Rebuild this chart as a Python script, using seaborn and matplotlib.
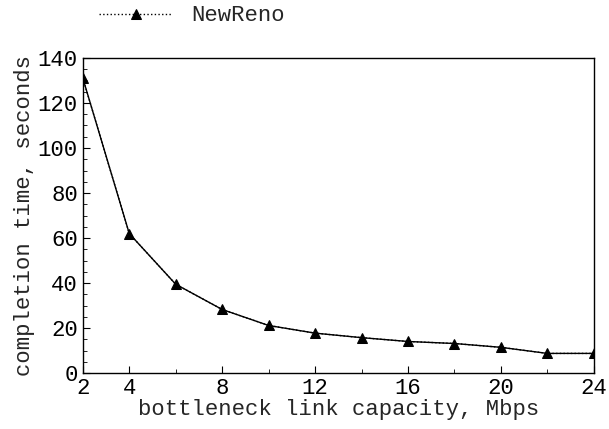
import matplotlib
matplotlib.use("Agg")
import matplotlib.pyplot as plt
import seaborn as sns
import pandas as pd
from matplotlib.ticker import MultipleLocator, FixedLocator

# data
capacity = [2, 4, 6, 8, 10, 12, 14, 16, 18, 20, 22, 24]
newreno = [131, 62, 39.5, 28.3, 21.2, 17.8, 15.8, 14.1, 13.2, 11.5, 8.8, 8.8]
xticks_major = [2, 4, 8, 12, 16, 20, 24]
xticks_minor = [6, 10, 14, 18, 22]

df = pd.DataFrame({"capacity": capacity, "time": newreno})

sns.set_style("ticks")
plt.rcParams['font.family'] = ['Liberation Mono', 'DejaVu Sans Mono']

fig = plt.figure(figsize=(6.09, 4.29), dpi=100)
ax = fig.add_axes([0.136, 0.130, 0.839, 0.735])

# solid line underneath, dotted NewReno with markers on top
sns.lineplot(data=df, x="capacity", y="time", ax=ax, color="black", lw=1.0)
sns.lineplot(data=df, x="capacity", y="time", ax=ax, color="black", lw=1.0,
             linestyle=":", marker="^", markersize=7, markeredgecolor="black",
             label="NewReno")

ax.set_xlim(2, 24)
ax.set_ylim(0, 140)
ax.xaxis.set_major_locator(FixedLocator(xticks_major))
ax.xaxis.set_minor_locator(FixedLocator(xticks_minor))
ax.yaxis.set_major_locator(MultipleLocator(20))
ax.yaxis.set_minor_locator(MultipleLocator(5))
ax.tick_params(which="both", direction="in", top=False, right=False, labelsize=16, colors="black")
ax.tick_params(which="major", length=5)
ax.tick_params(which="minor", length=3)
for s in ax.spines.values():
    s.set_color("black")
    s.set_linewidth(1.0)

ax.set_xlabel("bottleneck link capacity, Mbps", fontsize=16, labelpad=0)
ax.set_ylabel("completion time, seconds", fontsize=16, labelpad=2)

ax.legend(loc="center left", bbox_to_anchor=(0.148, 0.963), bbox_transform=fig.transFigure,
          borderaxespad=0, frameon=False, fontsize=16, handlelength=3.3, handletextpad=0.85)

fig.savefig("out.png", dpi=100)
